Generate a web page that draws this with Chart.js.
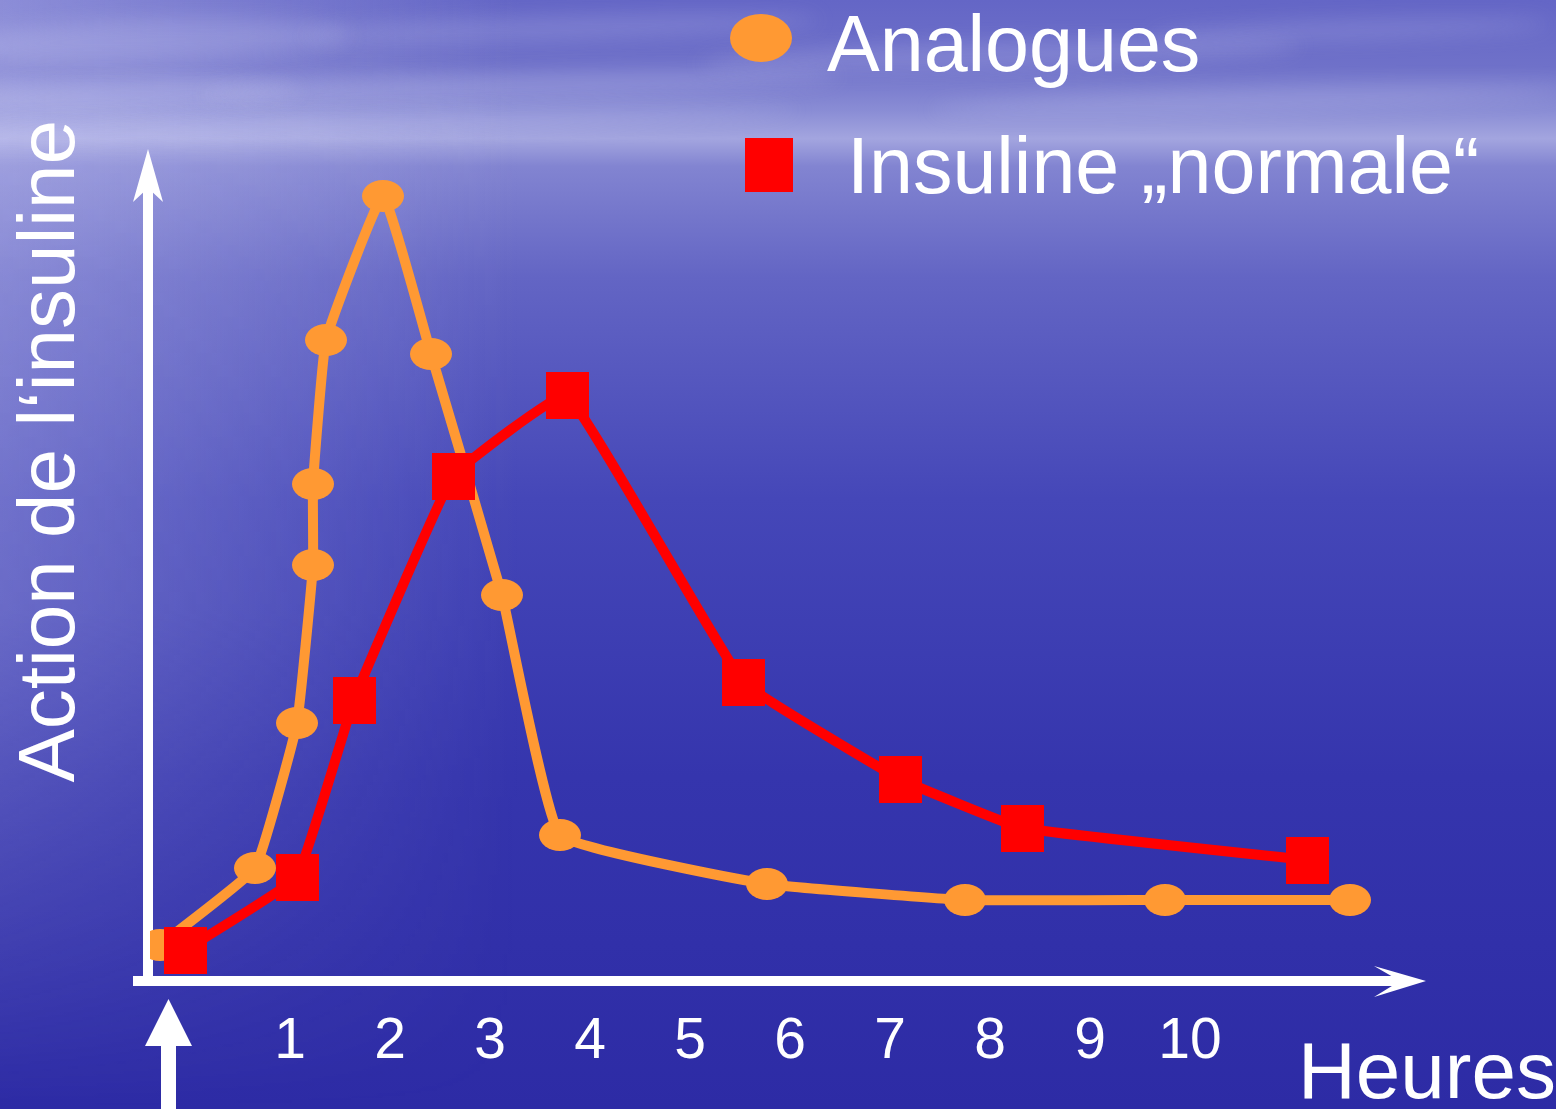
<!DOCTYPE html>
<html>
<head>
<meta charset="utf-8">
<script src="https://cdn.jsdelivr.net/npm/chart.js@4.4.0/dist/chart.umd.min.js"></script>
<style>
  html, body { margin: 0; padding: 0; overflow: hidden; background: #3a3ab4; }
  canvas { display: block; }
</style>
</head>
<body>
<canvas id="chartInsuline" width="1556" height="1109"></canvas>
<script>
// hours after the injection / action (arbitrary units)
let analogHours = [-0.3, 0.65, 1.07, 1.23, 1.23, 1.36, 1.93, 2.41, 3.12, 3.7, 5.77, 7.75, 9.75, 11.6]
let analogAction = [3.5, 11.2, 25.7, 41.5, 49.6, 64, 78.4, 62.6, 38.5, 14.5, 9.6, 8, 8, 8]

let normalHours = [-0.05, 1.07, 1.64, 2.63, 3.77, 5.53, 7.1, 8.32, 11.17]
let normalAction = [3, 10.3, 28, 50.4, 58.5, 29.8, 20.1, 15.2, 12]

let hourTicks = [1, 2, 3, 4, 5, 6, 7, 8, 9, 10]
let seriesNames = ['Analogues', 'Insuline \u201Enormale\u201C']
let yTitle = 'Action de l\u2018insuline'
let xTitle = 'Heures'

const ORANGE = '#ff9933'
const RED = '#ff0000'
const FONT = "'Liberation Sans', Arial, sans-serif"

function toPoints(xs, ys) {
  let pts = []
  for (let i = 0; i < xs.length; i++) {
    pts.push({ x: xs[i], y: ys[i] })
  }
  return pts
}

function makeMarker(w, h, color, round) {
  let c = document.createElement('canvas')
  c.width = w
  c.height = h
  let g = c.getContext('2d')
  g.fillStyle = color
  if (round) {
    g.beginPath()
    g.ellipse(w / 2, h / 2, w / 2, h / 2, 0, 0, Math.PI * 2)
    g.fill()
  } else {
    g.fillRect(0, 0, w, h)
  }
  return c
}

let ellipseMarker = makeMarker(42, 32, ORANGE, true)
let squareMarker = makeMarker(43, 47, RED, false)

// lighter haze on the left side, fading downwards
function makeHaze(w, h) {
  let c = document.createElement('canvas')
  c.width = w
  c.height = h
  let g = c.getContext('2d')
  let side = g.createLinearGradient(0, 0, w, 0)
  side.addColorStop(0, 'rgba(205,205,245,0.38)')
  side.addColorStop(1, 'rgba(205,205,245,0)')
  g.fillStyle = side
  g.fillRect(0, 0, w, h)
  g.globalCompositeOperation = 'destination-in'
  let down = g.createLinearGradient(0, 0, 0, h)
  down.addColorStop(0, 'rgba(0,0,0,1)')
  down.addColorStop(0.55, 'rgba(0,0,0,0.8)')
  down.addColorStop(1, 'rgba(0,0,0,0)')
  g.fillStyle = down
  g.fillRect(0, 0, w, h)
  return c
}

// sea and sky behind the chart
const backgroundPlugin = {
  id: 'seaBackground',
  beforeDraw(chart) {
    const ctx = chart.ctx
    const W = chart.width, H = chart.height
    ctx.save()
    let g = ctx.createLinearGradient(0, 0, 0, H)
    g.addColorStop(0, '#6466c6')
    g.addColorStop(0.06, '#6f71c9')
    g.addColorStop(0.10, '#8a8dd5')
    g.addColorStop(0.125, '#a3a5df')
    g.addColorStop(0.15, '#8284d1')
    g.addColorStop(0.25, '#6365c4')
    g.addColorStop(0.45, '#4547b8')
    g.addColorStop(0.7, '#3535ad')
    g.addColorStop(1, '#2d2ba5')
    ctx.fillStyle = g
    ctx.fillRect(0, 0, W, H)

    ctx.drawImage(makeHaze(520, H), 0, 0)

    // cloud streaks
    ctx.filter = 'blur(10px)'
    ctx.fillStyle = 'rgba(220,220,250,0.2)'
    let streaks = [[150, 40, 200, 20], [120, 95, 180, 14], [560, 28, 260, 10], [520, 85, 320, 12],
      [1000, 55, 300, 12], [1250, 100, 320, 10], [300, 125, 500, 10], [1350, 30, 200, 8]]
    for (let s of streaks) {
      ctx.beginPath()
      ctx.ellipse(s[0], s[1], s[2], s[3], -0.03, 0, Math.PI * 2)
      ctx.fill()
    }
    ctx.restore()
  }
}

// white arrows for the axes
const arrowsPlugin = {
  id: 'axisArrows',
  beforeDatasetsDraw(chart) {
    const ctx = chart.ctx
    const a = chart.chartArea
    const ax = a.left - 2
    const ay = a.bottom + 1
    ctx.save()
    ctx.fillStyle = '#ffffff'
    // y axis
    ctx.fillRect(ax - 5, 185, 10, ay - 185)
    ctx.beginPath()
    ctx.moveTo(ax, 149)
    ctx.lineTo(ax + 15, 202)
    ctx.lineTo(ax, 188)
    ctx.lineTo(ax - 15, 202)
    ctx.closePath()
    ctx.fill()
    // x axis
    ctx.fillRect(133, ay - 5, 1270, 10)
    ctx.beginPath()
    ctx.moveTo(1426, ay)
    ctx.lineTo(1374, ay - 15)
    ctx.lineTo(1400, ay)
    ctx.lineTo(1374, ay + 16)
    ctx.closePath()
    ctx.fill()
    // injection arrow
    ctx.fillRect(161, 1044, 15, 70)
    ctx.beginPath()
    ctx.moveTo(168.5, 999)
    ctx.lineTo(192, 1046)
    ctx.lineTo(145, 1046)
    ctx.closePath()
    ctx.fill()
    ctx.restore()
  }
}

const labelsPlugin = {
  id: 'slideLabels',
  afterDraw(chart) {
    const ctx = chart.ctx
    ctx.save()
    ctx.fillStyle = ORANGE
    ctx.beginPath()
    ctx.ellipse(761, 38, 31, 24, 0, 0, Math.PI * 2)
    ctx.fill()
    ctx.fillStyle = RED
    ctx.fillRect(745, 138, 48, 54)

    ctx.fillStyle = '#ffffff'
    ctx.textBaseline = 'alphabetic'
    ctx.textAlign = 'left'
    ctx.font = '79px ' + FONT
    ctx.fillText(seriesNames[0], 827, 71)
    ctx.fillText(seriesNames[1], 847, 193)
    ctx.font = '80px ' + FONT
    ctx.fillText(xTitle, 1298, 1098)
    ctx.restore()
  }
}

var ctx = document.getElementById('chartInsuline').getContext('2d')
var myChart = new Chart(ctx, {
  type: 'line',
  data: {
    datasets: [{
      label: seriesNames[1],
      data: toPoints(normalHours, normalAction),
      borderColor: RED,
      backgroundColor: RED,
      borderWidth: 10,
      pointStyle: squareMarker,
      pointRadius: 22,
      tension: 0.08,
      order: 0
    }, {
      label: seriesNames[0],
      data: toPoints(analogHours, analogAction),
      borderColor: ORANGE,
      backgroundColor: ORANGE,
      borderWidth: 10,
      pointStyle: ellipseMarker,
      pointRadius: 20,
      tension: 0.1,
      order: 1
    }]
  },
  options: {
    responsive: false,
    animation: false,
    devicePixelRatio: 1,
    events: [],
    layout: { padding: { top: 120, right: 136, bottom: 0, left: 0 } },
    plugins: {
      legend: { display: false },
      tooltip: { enabled: false }
    },
    scales: {
      x: {
        type: 'linear',
        min: -0.4,
        max: 12.3,
        grid: { display: false, drawTicks: false },
        border: { display: false },
        afterBuildTicks: function(scale) {
          scale.ticks = hourTicks.map(v => ({ value: v }))
        },
        afterFit: function(scale) {
          scale.height = 129
        },
        ticks: {
          color: '#ffffff',
          autoSkip: false,
          maxRotation: 0,
          padding: 28,
          font: { family: FONT, size: 57 }
        }
      },
      y: {
        min: 0,
        max: 86,
        grid: { display: false, drawTicks: false },
        border: { display: false },
        ticks: { display: false },
        afterFit: function(scale) {
          scale.width = 150
        },
        title: {
          display: true,
          text: yTitle,
          align: 'end',
          color: '#ffffff',
          font: { family: FONT, size: 80 }
        }
      }
    }
  },
  plugins: [backgroundPlugin, arrowsPlugin, labelsPlugin]
})
</script>
</body>
</html>
